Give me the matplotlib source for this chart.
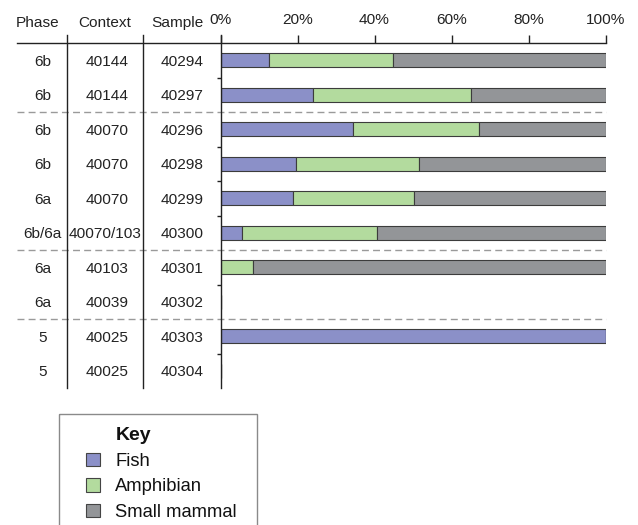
import matplotlib
matplotlib.use("Agg")
import matplotlib.pyplot as plt
from matplotlib.patches import Rectangle
from matplotlib import transforms

plt.rcParams['font.family'] = ['Liberation Sans', 'DejaVu Sans']

# Table columns
phases = ["6b", "6b", "6b", "6b", "6a", "6b/6a", "6a", "6a", "5", "5"]
contexts = ["40144", "40144", "40070", "40070", "40070", "40070/103",
            "40103", "40039", "40025", "40025"]
samples = ["40294", "40297", "40296", "40298", "40299", "40300",
           "40301", "40302", "40303", "40304"]

# Percentage composition of each sample
fish = [12.7, 24.1, 34.4, 19.6, 18.8, 5.7, 0.0, 0.0, 100.0, 0.0]
amphibian = [32.0, 41.0, 32.8, 32.0, 31.5, 35.0, 8.5, 0.0, 0.0, 0.0]
small_mammal = [55.3, 34.9, 32.8, 48.4, 49.7, 59.3, 91.5, 0.0, 0.0, 0.0]

series_names = ["Fish", "Amphibian", "Small mammal"]
series_colors = ["#8b90c8", "#b3db9e", "#939598"]
x_ticks = [0, 20, 40, 60, 80, 100]
x_tick_labels = ["0%", "20%", "40%", "60%", "80%", "100%"]
group_breaks = [2, 6, 8]          # dashed separators between phase groups
row_ticks = [1, 3, 4, 5, 7, 9]    # small ticks between the remaining rows

W, H = 638, 525
fig = plt.figure(figsize=(W / 100, H / 100), dpi=100)

# Bar area
ax_left, ax_right, ax_top, ax_bottom = 220.5, 605.5, 43.0, 388.0
ax = fig.add_axes([ax_left / W, 1 - ax_bottom / H,
                   (ax_right - ax_left) / W, (ax_bottom - ax_top) / H])
n = len(samples)
ax.set_xlim(0, 100)
ax.set_ylim(n, 0)

rows = [i + 0.5 for i in range(n)]
edge = "#3c3c3c"
left = [0.0] * n
for vals, col in zip([fish, amphibian, small_mammal], series_colors):
    ax.barh(rows, vals, left=left, height=0.4, color=col,
            edgecolor=edge, linewidth=0.8, zorder=3)
    left = [a + b for a, b in zip(left, vals)]

for s in ax.spines.values():
    s.set_visible(False)
ax.patch.set_visible(False)

ax.xaxis.tick_top()
ax.set_xticks(x_ticks)
ax.set_xticklabels(x_tick_labels, fontsize=11.1, color="#222222")
ax.tick_params(axis="x", direction="out", length=5.8, width=1.0,
               pad=5.8, color="#222222")
ax.set_yticks(row_ticks)
ax.set_yticklabels([])
ax.tick_params(axis="y", direction="out", length=3.0, width=1.0,
               color="#222222")

# Overlay in pixel coordinates for the table and key
ov = fig.add_axes([0, 0, 1, 1])
ov.set_xlim(0, W)
ov.set_ylim(H, 0)
ov.axis("off")
ov.patch.set_visible(False)

line_col = "#222222"
ov.plot([17, ax_right], [ax_top, ax_top], color=line_col, lw=1.0)
for xv in [66.7, 143.3, ax_left]:
    ov.plot([xv, xv], [35, ax_bottom], color=line_col, lw=1.0)

# Headers
hdr_base = 26.7
for label, xc in [("Phase", 37.5), ("Context", 104.5), ("Sample", 177.0)]:
    ov.text(xc, hdr_base, label, ha="center", va="baseline",
            fontsize=11.1, color="#222222")

# Row text: x in pixels, y in bar data coordinates
blend = transforms.blended_transform_factory(ov.transData, ax.transData)
row_text = transforms.offset_copy(blend, fig=fig, x=0, y=-5.4, units="dots")
for i in range(n):
    y = rows[i]
    ov.text(42.5, y, phases[i], ha="center", va="baseline", fontsize=11.1,
            color="#222222", transform=row_text)
    cx = 104.7 if "/" in contexts[i] else 107.5
    ov.text(cx, y, contexts[i], ha="center", va="baseline", fontsize=11.1,
            color="#222222", transform=row_text)
    ov.text(182.5, y, samples[i], ha="center", va="baseline", fontsize=11.1,
            color="#222222", transform=row_text)

# Dashed group separators
for b in group_breaks:
    ov.plot([17, ax_right], [b, b], color="#9a9a9a", lw=1.0,
            dashes=(5.0, 3.0), transform=blend, clip_on=False, zorder=1)

# Key
ov.add_patch(Rectangle((59.3, 414), 197.4, 130, fill=False,
                       edgecolor="#8a8a8a", lw=1.0, clip_on=False))
ov.text(115.3, 440, "Key", ha="left", va="baseline", fontsize=14,
        fontweight="bold", color="#111111")
for k, (name, col) in enumerate(zip(series_names, series_colors)):
    base = 466 + 25.4 * k
    ov.add_patch(Rectangle((86, base - 13.0), 14.2, 13.4, facecolor=col,
                           edgecolor="#444444", lw=0.8))
    ov.text(115.3, base, name, ha="left", va="baseline", fontsize=13.2,
            color="#111111")

fig.savefig("out.png", dpi=100)
